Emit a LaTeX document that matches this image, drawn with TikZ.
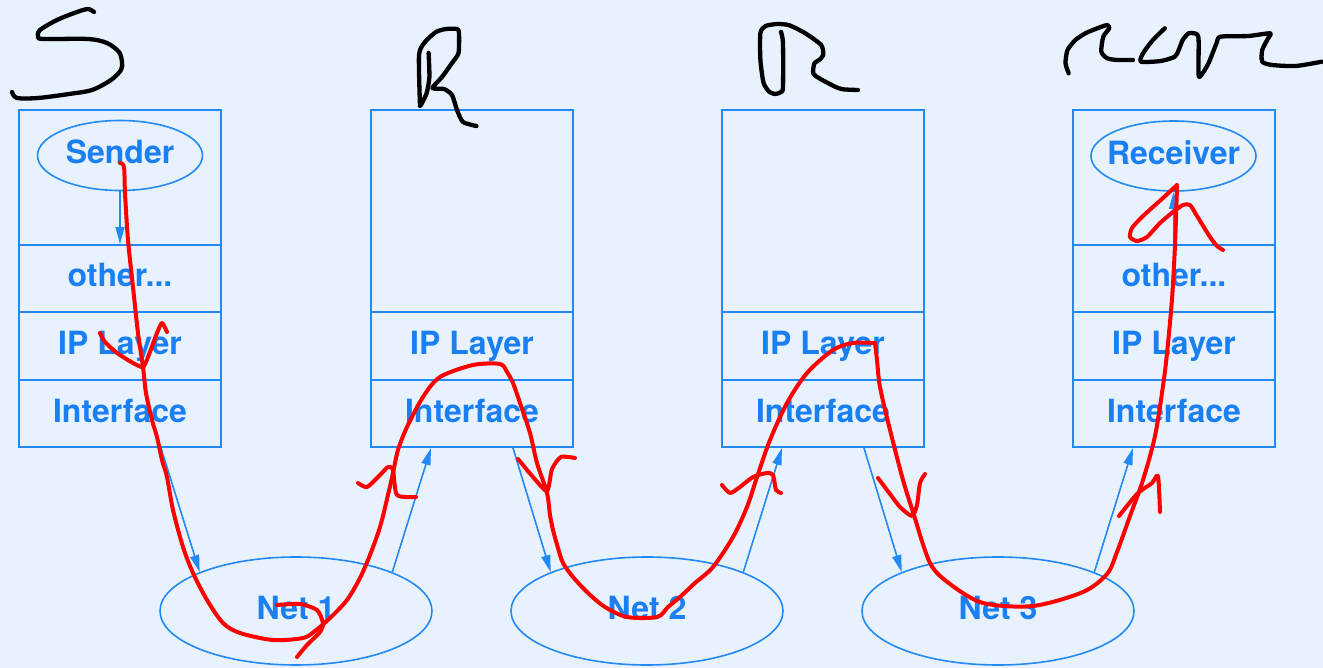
\documentclass[tikz,border=0pt]{standalone}
\usepackage{fontspec}
\setsansfont{TeX Gyre Heros}
\usetikzlibrary{shapes.geometric,arrows.meta,calc}
\definecolor{bgblue}{RGB}{232,242,254}
\definecolor{lineblue}{RGB}{35,137,245}
\definecolor{textblue}{RGB}{25,127,242}
\definecolor{penred}{RGB}{255,0,0}
\begin{document}
\begin{tikzpicture}[x=1pt,y=-1pt,
  labelfont/.style={text=textblue,font=\sffamily\bfseries\fontsize{32}{38}\selectfont,text height=23pt,text depth=6pt},
  stackframe/.style={draw=lineblue,line width=2pt,minimum width=202pt,minimum height=337pt,inner sep=0pt},
  rowbox/.style={draw=lineblue,line width=2pt,minimum width=202pt,inner sep=0pt,labelfont},
  appnode/.style={ellipse,draw=lineblue,line width=1.6pt,minimum width=165pt,minimum height=70pt,inner sep=0pt,
    label={[labelfont,inner sep=0pt]center:#1}},
  netcloud/.style={ellipse,draw=lineblue,line width=1.6pt,minimum width=272pt,minimum height=108pt,inner sep=0pt,labelfont},
  dataflow/.style={draw=lineblue,line width=1.6pt,-{Triangle[length=17pt,width=9pt]}},
  redpen/.style={draw=penred,line width=4pt,line cap=round,line join=round},
  inkpen/.style={draw=black,line width=4.3pt,line cap=round,line join=round}]

% canvas
\fill[bgblue] (0,0) rectangle (1323,668);
\useasboundingbox (0,0) rectangle (1323,668);

% sending host
\node[stackframe] (b1) at (120,278.5) {};
\node[appnode=Sender] (snd) at (120,155.5) {};
\node[rowbox,minimum height=67pt] (b1o) at (120,278.5) {other...};
\node[rowbox,minimum height=68pt] (b1i) at (120,346) {IP Layer};
\node[rowbox,minimum height=67pt] (b1f) at (120,413.5) {Interface};

% first router
\node[stackframe] (b2) at (472,278.5) {};
\node[rowbox,minimum height=68pt] (b2i) at (472,346) {IP Layer};
\node[rowbox,minimum height=67pt] (b2f) at (472,413.5) {Interface};

% second router
\node[stackframe] (b3) at (823,278.5) {};
\node[rowbox,minimum height=68pt] (b3i) at (823,346) {IP Layer};
\node[rowbox,minimum height=67pt] (b3f) at (823,413.5) {Interface};

% receiving host
\node[stackframe] (b4) at (1174,278.5) {};
\node[appnode=Receiver] (rcv) at (1173.5,156) {};
\node[rowbox,minimum height=67pt] (b4o) at (1174,278.5) {other...};
\node[rowbox,minimum height=68pt] (b4i) at (1174,346) {IP Layer};
\node[rowbox,minimum height=67pt] (b4f) at (1174,413.5) {Interface};

% networks
\node[netcloud] (n1) at (296,611) {Net 1};
\node[netcloud] (n2) at (647,611) {Net 2};
\node[netcloud] (n3) at (998,611) {Net 3};

% packet flow
\draw[dataflow] (snd.south) -- (b1o.north);
\draw[dataflow] ($(b1f.south west)+(143,0)$) -- (n1.158);
\draw[dataflow] (n1.22) -- ($(b2f.south west)+(61,0)$);
\draw[dataflow] ($(b2f.south west)+(143,0)$) -- (n2.158);
\draw[dataflow] (n2.22) -- ($(b3f.south west)+(61,0)$);
\draw[dataflow] ($(b3f.south west)+(143,0)$) -- (n3.158);
\draw[dataflow] (n3.22) -- ($(b4f.south west)+(61,0)$);
\draw[dataflow] (b4o.north) -- (rcv.south);

% red path of the packet, sender to second router
\draw[redpen] plot[smooth,tension=0.5] coordinates {
 (120,163) (124,167) (125,193) (128,240) (133,287) (138,333) (143,367) (146,393)
 (152,420) (157,437) (162,460) (167,477) (173,510) (183,547) (193,573) (207,600)
 (223,623) (240,633) (273,640) (303,638) (315,631) (330,618) (347,600) (360,578)
 (370,555) (380,527) (388,495) (393,473) (398,450) (407,427) (423,397) (440,377)
 (473,365) (500,364) (507,372) (513,383) (520,403) (530,433) (537,463) (547,493)
 (550,515) (553,530) (558,548) (563,563) (573,577) (588,593) (605,607) (627,617)
 (657,617) (668,607) (680,597) (695,583) (713,567) (733,537) (747,507) (757,477)
 (770,440) (787,403) (807,373) (833,350) (853,343) (875,343)};
% red path, second router to receiver
\draw[redpen] plot[smooth,tension=0.5] coordinates {
 (875,343) (877,360) (880,387) (890,430) (903,480) (913,512) (930,563) (950,584)
 (983,603) (1033,606) (1083,592) (1107,574) (1117,552) (1130,516) (1143,480)
 (1155,436) (1163,386) (1167,353) (1172,299) (1175,245) (1177,187)};

% red arrow marks along the path
\draw[redpen] plot[smooth,tension=0.4] coordinates {
 (100,333) (105,342) (117,353) (133,363) (143,367) (148,357) (157,333) (162,323) (167,332)};
\draw[redpen] plot[smooth,tension=0.4] coordinates {
 (277,605) (300,604) (317,610) (323,623) (320,632) (307,645) (297,657)};
\draw[redpen] plot[smooth,tension=0.4] coordinates {
 (358,483) (367,487) (380,475) (388,467) (393,470) (397,495) (416,497)};
\draw[redpen] plot[smooth,tension=0.4] coordinates {
 (518,459) (533,477) (547,491) (552,469) (561,457) (575,458)};
\draw[redpen] plot[smooth,tension=0.4] coordinates {
 (722,485) (730,493) (740,487) (753,477) (767,473) (773,475) (776,490) (781,493)};
\draw[redpen] plot[smooth,tension=0.4] coordinates {
 (878,478) (890,494) (900,507) (912,516) (917,505) (920,483) (925,474)};
\draw[redpen] plot[smooth,tension=0.4] coordinates {
 (1119,516) (1137,494) (1152,483) (1158,476) (1160,512)};
\draw[redpen] plot[smooth,tension=0.4] coordinates {
 (1177,185) (1163,198) (1143,216) (1132,228) (1130,237) (1137,241) (1147,237)
 (1160,223) (1173,212) (1183,205) (1190,205) (1197,216) (1210,237) (1217,246) (1223,250)};

% handwritten labels
\draw[inkpen] plot[smooth,tension=0.5] coordinates {
 (94,12) (88,9) (77,12) (57,20) (40,30) (38,37) (44,39) (88,39) (107,43) (119,52)
 (122,62) (121,70) (111,80) (92,90) (69,94) (38,98) (17,98) (12,92)};
\draw[inkpen] plot[smooth,tension=0.4] coordinates {
 (420,106) (419,55) (425,42) (436,32) (446,29) (457,29) (459,33) (458.5,53) (452,63)
 (442,77) (432.5,88) (444,89) (452,95) (457,110) (463,122) (476.5,126)};
\draw[inkpen] plot[smooth,tension=0.4] coordinates {
 (428.6,53) (429.4,77) (426.7,93) (421,105)};
\draw[inkpen] plot[smooth,tension=0.4] coordinates {
 (781,32) (783,43) (783,87) (781,92) (775.5,94) (769.5,92) (763.6,83) (760.4,60)
 (760.4,33) (765.6,26) (777.5,24) (789.4,25.3) (805.3,33.3) (821.2,45) (823.2,55)
 (819.2,60) (814.4,63.3) (813.2,73.3) (819.2,78.3) (835.1,86.7) (843,89.3) (858,90)};
\draw[inkpen] plot[smooth,tension=0.4] coordinates {
 (1068.7,73.3) (1065.5,63.3) (1067.5,50) (1075.4,40) (1085.4,33.3) (1097.3,28.3)
 (1107.2,25) (1109.2,28.3) (1103.3,36.7) (1101.3,51.7) (1107.2,58.3) (1117.2,60) (1133,60)};
\draw[inkpen] plot[smooth,tension=0.4] coordinates {
 (1164.8,28.3) (1152.9,40) (1143,53.3) (1141,61.7) (1160.9,61) (1174.8,56.7)
 (1178.7,50) (1182.7,40) (1188.7,33.3) (1196.6,34) (1198.6,40) (1198.6,75)
 (1201.4,75) (1208.5,63.3) (1216.5,43.3) (1220.5,36.7) (1248.3,36) (1270.1,33.3)
 (1268.1,38.3) (1262.2,50) (1262.2,61.7) (1272.1,65) (1295.9,66) (1321.8,61.7)};
\end{tikzpicture}
\end{document}
